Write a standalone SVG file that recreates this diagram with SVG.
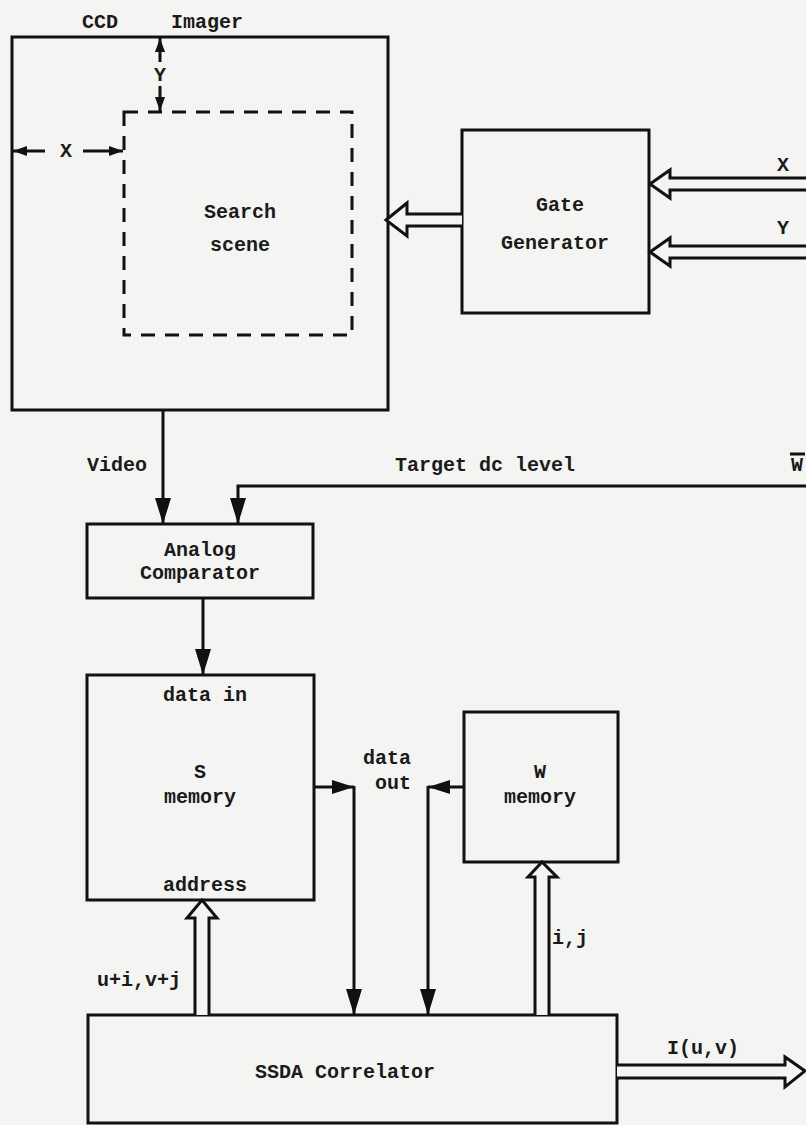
<svg xmlns="http://www.w3.org/2000/svg" width="806" height="1125" viewBox="0 0 806 1125">
<defs>
<style>
.box{fill:none;stroke:#111;stroke-width:3}
.dash{fill:none;stroke:#111;stroke-width:3;stroke-dasharray:14 10}
.ln{fill:none;stroke:#111;stroke-width:3}
.hol{fill:#f4f4f2;stroke:#111;stroke-width:3;stroke-linejoin:miter}
text{font-family:"Liberation Mono","DejaVu Sans Mono",monospace;font-size:20px;font-weight:bold;fill:#1a1a1a;text-anchor:middle;dominant-baseline:central}
</style>
<marker id="sm" markerUnits="userSpaceOnUse" markerWidth="14" markerHeight="10" refX="14" refY="5" orient="auto"><path d="M0,0 L14,5 L0,10 z" fill="#111"/></marker>
<marker id="lg" markerUnits="userSpaceOnUse" markerWidth="26" markerHeight="16" refX="26" refY="8" orient="auto"><path d="M0,0 L26,8 L0,16 z" fill="#111"/></marker>
<marker id="md" markerUnits="userSpaceOnUse" markerWidth="22" markerHeight="14" refX="22" refY="7" orient="auto"><path d="M0,0 L22,7 L0,14 z" fill="#111"/></marker>
</defs>
<rect x="0" y="0" width="806" height="1125" fill="#f4f4f2"/>

<g id="ccd-imager">
<rect class="box" x="12" y="37" width="376" height="373"/>
<text x="100" y="22">CCD</text>
<text x="207" y="22">Imager</text>
<rect class="dash" x="124" y="112" width="228" height="223"/>
<text x="240" y="212">Search</text>
<text x="240" y="245">scene</text>
<line class="ln" x1="160" y1="62" x2="160" y2="38" marker-end="url(#sm)"/>
<line class="ln" x1="160" y1="86" x2="160" y2="111" marker-end="url(#sm)"/>
<text x="160" y="75">Y</text>
<line class="ln" x1="45" y1="151" x2="13" y2="151" marker-end="url(#sm)"/>
<line class="ln" x1="83" y1="151" x2="123" y2="151" marker-end="url(#sm)"/>
<text x="66" y="151">X</text>
</g>

<g id="gate-generator">
<rect class="box" x="462" y="130" width="187" height="183"/>
<text x="560" y="205">Gate</text>
<text x="555" y="243">Generator</text>
</g>

<g id="analog-comparator">
<rect class="box" x="87" y="524" width="226" height="74"/>
<text x="200" y="550">Analog</text>
<text x="200" y="573">Comparator</text>
</g>

<g id="s-memory">
<rect class="box" x="87" y="675" width="227" height="225"/>
<text x="205" y="695">data in</text>
<text x="200" y="772">S</text>
<text x="200" y="797">memory</text>
<text x="205" y="885">address</text>
</g>

<g id="w-memory">
<rect class="box" x="464" y="712" width="154" height="150"/>
<text x="540" y="772">W</text>
<text x="540" y="797">memory</text>
</g>

<g id="ssda-correlator">
<rect class="box" x="88" y="1015" width="529" height="108"/>
<text x="345" y="1072">SSDA Correlator</text>
</g>

<g id="connectors">
<path class="hol" d="M806,178 H670 V170 L650,184 L670,198 V190 H806"/>
<text x="783" y="165">X</text>
<path class="hol" d="M806,246 H670 V238 L650,252 L670,266 V258 H806"/>
<text x="783" y="228">Y</text>
<path class="hol" d="M462,214 H407 V203 L386,220 L407,236 V226 H462"/>

<line class="ln" x1="163" y1="410" x2="163" y2="524" marker-end="url(#lg)"/>
<text x="117" y="465">Video</text>
<path class="ln" d="M806,486 H238 V524" marker-end="url(#lg)"/>
<text x="575" y="465" style="text-anchor:end">Target dc level</text>
<text x="797" y="465">W</text>
<line class="ln" x1="790" y1="454" x2="805" y2="454"/>

<line class="ln" x1="203" y1="598" x2="203" y2="675" marker-end="url(#lg)"/>

<line class="ln" x1="314" y1="787" x2="354" y2="787" marker-end="url(#md)"/>
<line class="ln" x1="354" y1="786" x2="354" y2="1015" marker-end="url(#lg)"/>
<line class="ln" x1="464" y1="787" x2="428" y2="787" marker-end="url(#md)"/>
<line class="ln" x1="428" y1="786" x2="428" y2="1015" marker-end="url(#lg)"/>
<text x="387" y="758">data</text>
<text x="393" y="783">out</text>

<path class="hol" d="M195,1015 V918 H187 L202,900 L217,918 H209 V1015"/>
<text x="139" y="980">u+i,v+j</text>
<path class="hol" d="M535,1015 V877 H528 L542,862 L557,877 H549 V1015"/>
<text x="570" y="938">i,j</text>

<path class="hol" d="M617,1065 H785 V1057 L805,1071 L785,1087 V1078 H617"/>
<text x="703" y="1048">I(u,v)</text>
</g>
</svg>
